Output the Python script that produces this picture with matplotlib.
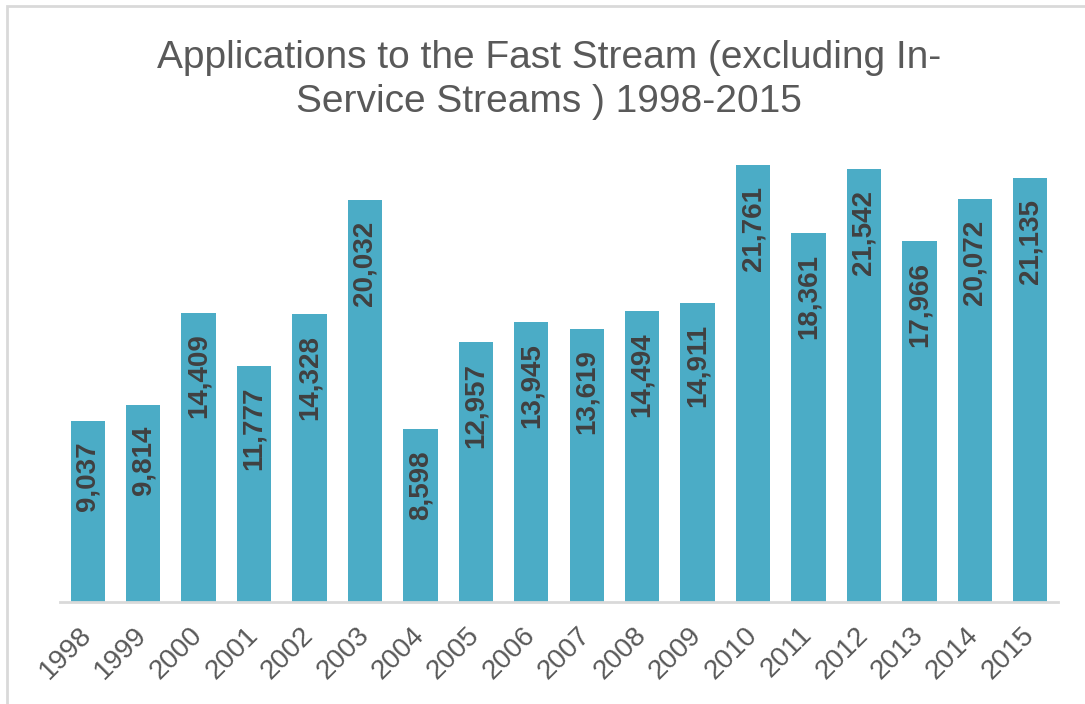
import matplotlib.pyplot as plt
from matplotlib.patches import Rectangle

years = ['1998', '1999', '2000', '2001', '2002', '2003', '2004', '2005', '2006',
         '2007', '2008', '2009', '2010', '2011', '2012', '2013', '2014', '2015']
applications = [9037, 9814, 14409, 11777, 14328, 20032, 8598, 12957, 13945,
                13619, 14494, 14911, 21761, 18361, 21542, 17966, 20072, 21135]

plt.rcParams['font.family'] = ['Liberation Sans', 'DejaVu Sans']

fig = plt.figure(figsize=(10.85, 7.04), dpi=100)
fig.patches.append(Rectangle((7 / 1085, -0.1), 1.2, 1 - 6 / 704 + 0.1,
                             transform=fig.transFigure, fill=False,
                             edgecolor='#D9D9D9', linewidth=2))

ax = fig.add_axes([60 / 1085, 102 / 704, 998 / 1085, 502 / 704])
x = range(len(years))
bars = ax.bar(x, applications, width=0.62, color='#4BACC6')
ax.set_xlim(-0.5, len(years) - 0.5)
ax.set_ylim(0, 25000)

for b, v in zip(bars, applications):
    ax.annotate(f'{v:,}', (b.get_x() + b.get_width() / 2, v),
                xytext=(0, -21), textcoords='offset pixels',
                rotation=90, ha='center', va='top',
                fontsize=20, fontweight='bold', color='#404040')

for s in ['top', 'right', 'left']:
    ax.spines[s].set_visible(False)
ax.spines['bottom'].set_color('#D9D9D9')
ax.spines['bottom'].set_linewidth(2)
ax.set_yticks([])
ax.set_xticks(list(x))
ax.set_xticklabels(years, rotation=45, ha='right', va='center', rotation_mode='anchor',
                   fontsize=20, color='#595959')
ax.tick_params(axis='x', length=0, pad=21)

fig.text(549 / 1085, 1 - 80 / 704,
         'Applications to the Fast Stream (excluding In-\nService Streams ) 1998-2015',
         ha='center', va='center', fontsize=28, color='#595959', linespacing=1.3)

fig.savefig('out.png', dpi=100)
